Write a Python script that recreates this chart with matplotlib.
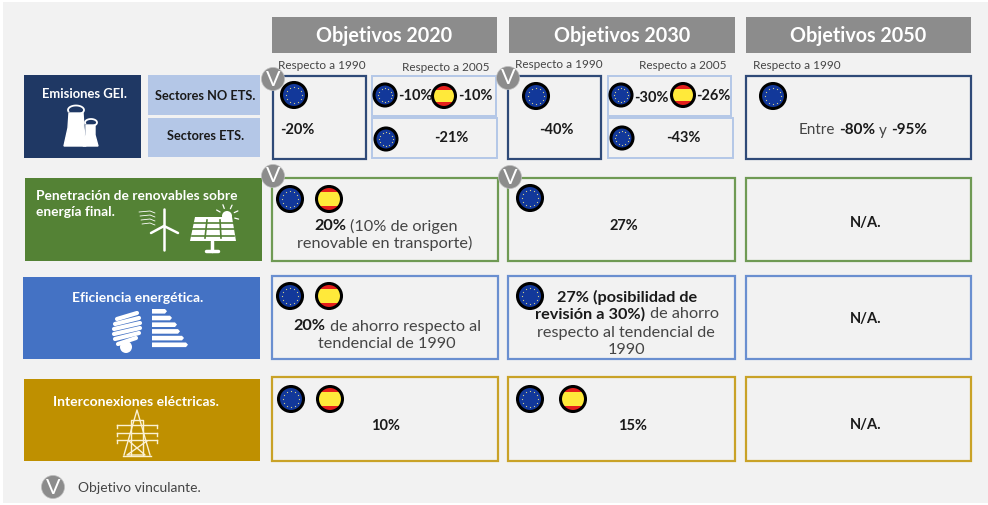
import numpy as np
import matplotlib
matplotlib.use("Agg")
import matplotlib.pyplot as plt
from matplotlib.patches import Rectangle, Circle, Polygon

# chart content
headers = ["Objetivos 2020", "Objetivos 2030", "Objetivos 2050"]
ref_1990 = "Respecto a 1990"
ref_2005 = "Respecto a 2005"
sector_labels = ["Sectores NO ETS.", "Sectores ETS."]
row_titles = ["Emisiones GEI.", "Eficiencia energética.", "Interconexiones eléctricas."]
renew_title = ["Penetración de renovables sobre", "energía final."]
ghg_2020 = ["-20%", "-10%", "-10%", "-21%"]
ghg_2030 = ["-40%", "-30%", "-26%", "-43%"]
ghg_2050 = ["Entre", "-80%", "y", "-95%"]
renew_2020 = ["20%", "(10% de origen", "renovable en transporte)"]
renew_2030 = "27%"
eff_2020 = ["20%", "de ahorro respecto al", "tendencial de 1990"]
eff_2030 = ["27% (posibilidad de", "revisión a 30%)", "de ahorro", "respecto al tendencial de", "1990"]
inter_2020 = "10%"
inter_2030 = "15%"
not_applicable = "N/A."
legend_text = "Objetivo vinculante."

NAVY = "#1f3864"
LIGHT = "#b4c7e7"
GREEN = "#548235"
BLUE = "#4472c4"
GOLD = "#bf9000"
GREY = "#8c8c8c"
DARK = "#1a1a1a"
SOFT = "#454545"

plt.rcParams["font.family"] = ["Lato", "DejaVu Sans"]

fig = plt.figure(figsize=(9.88, 5.05), dpi=100, facecolor="white")
ax = fig.add_axes([0, 0, 1, 1])
ax.set_xlim(0, 988)
ax.set_ylim(505, 0)
ax.axis("off")


def box(x0, y0, x1, y1, face="none", edge="none", lw=0, z=2):
    ax.add_patch(Rectangle((x0, y0), x1 - x0, y1 - y0, facecolor=face, edgecolor=edge, linewidth=lw, zorder=z))


def label(x, y, s, size=10.5, bold=True, color=DARK, ha="center"):
    return ax.text(x, y + 1.5, s, fontsize=size, fontweight="bold" if bold else "normal", color=color,
                   ha=ha, va="center", zorder=8)


def runs(cx, y, parts, size=11.7, gap=4):
    # one centred line that mixes bold and regular pieces
    items = [label(0, y, s, size, b, DARK if b else SOFT, "left") for s, b in parts]
    rend = fig.canvas.get_renderer()
    widths = [t.get_window_extent(rend).width for t in items]
    x = cx - (sum(widths) + gap * (len(items) - 1)) / 2
    for t, w in zip(items, widths):
        t.set_x(x)
        x += w + gap


def eu_flag(x, y, r=13.5):
    ax.add_patch(Circle((x, y), r - 1, facecolor="#12389a", edgecolor="black", linewidth=2.2, zorder=5))
    ang = np.linspace(0, 2 * np.pi, 12, endpoint=False)
    ax.scatter(x + 0.58 * r * np.cos(ang), y + 0.58 * r * np.sin(ang), s=0.8, color="#d9d38a", zorder=6, linewidths=0)


def es_flag(x, y, r=13.5):
    c = Circle((x, y), r - 1, facecolor="#e5201c", edgecolor="none", zorder=5)
    ax.add_patch(c)
    band = Rectangle((x - r, y - r * 0.5), 2 * r, r, facecolor="#ffe93a", edgecolor="none", zorder=5.5)
    ax.add_patch(band)
    band.set_clip_path(c)
    ax.add_patch(Circle((x, y), r - 1, facecolor="none", edgecolor="black", linewidth=2.2, zorder=6))


def badge(x, y, r=11.5):
    ax.add_patch(Circle((x, y), r, facecolor=GREY, edgecolor="#bdbdbd", linewidth=0.5, zorder=7))
    ax.text(x, y + 0.5, "V", fontsize=15.5, color="white", ha="center", va="center", zorder=8)


def factory_icon():
    ax.add_patch(Polygon([(64, 146), (68, 128), (69, 113), (83, 113), (84, 128), (86, 146)], color="white", zorder=4))
    ax.add_patch(Polygon([(83, 146), (86, 135), (86, 125), (95, 125), (95, 135), (98, 146)], color="white", zorder=4))
    t = np.linspace(0.9 * np.pi, 2.3 * np.pi, 30)
    ax.plot(76 + 8 * np.cos(t), 110 + 4.5 * np.sin(t), color="white", lw=1.3, zorder=4)
    ax.plot(91 + 6 * np.cos(t), 122.5 + 3.5 * np.sin(t), color="white", lw=1.3, zorder=4)


def renew_icon():
    kw = dict(color="white", zorder=4, solid_capstyle="round")
    ax.plot([164, 164], [209, 250], lw=1.8, **kw)
    ax.plot([164, 151], [226, 233], lw=1.8, **kw)
    ax.plot([164, 178], [226, 233], lw=1.8, **kw)
    for i, yy in enumerate([212, 216, 220, 224]):
        ax.plot([139 + i, 150, 155], [yy, yy - 1, yy + 1], lw=0.6, **kw)
    # sun sits behind the panel
    ax.add_patch(Circle((227, 216), 5, facecolor="white", zorder=3))
    for a in np.radians([-150, -110, -65, -25, 15]):
        ax.plot([227 + 8 * np.cos(a), 227 + 12 * np.cos(a)], [216 + 8 * np.sin(a), 216 + 12 * np.sin(a)], lw=0.9, **kw)
    ax.add_patch(Circle((227, 216), 6.5, facecolor="none", edgecolor=GREEN, linewidth=1.0, zorder=3.5))
    # solar panel
    ax.add_patch(Polygon([(195, 217), (232, 217), (236, 241), (190, 241)], facecolor="white", zorder=4))
    for fy in [222.5, 229, 235.5]:
        ax.plot([192, 234], [fy, fy], color=GREEN, lw=1.2, zorder=5)
    for tx, bx in [(207, 205), (220, 221)]:
        ax.plot([tx, bx], [220, 238], color=GREEN, lw=1.2, zorder=5)
    ax.plot([212, 212], [241, 251], lw=2.5, **kw)
    ax.plot([206, 218], [251, 251], lw=2.5, **kw)


def efficiency_icon():
    kw = dict(color="white", zorder=4, solid_capstyle="round")
    for i, half in enumerate([10, 12, 13, 13, 12, 9]):
        yy = 316 + i * 5
        ax.plot([127 - half, 127 + half], [yy + 3, yy - 3], lw=3.0, **kw)
    ax.add_patch(Circle((126, 347), 6, facecolor="white", zorder=4))
    for i, right in enumerate([167, 172, 177, 180, 184, 188]):
        yy = 309 + i * 6.7
        ax.add_patch(Polygon([(152, yy), (right - 2, yy), (right, yy + 2.2), (right - 2, yy + 4.6), (152, yy + 4.6)],
                             facecolor="white", zorder=4))


def tower_icon():
    c = "#fbf1d3"
    kw = dict(color=c, lw=1.0, zorder=4)
    ax.plot([124, 137, 150], [455, 410, 455], **kw)
    ax.plot([123, 151], [456, 456], **kw)
    ax.plot([131, 131, 143, 143], [455, 420, 420, 455], **kw)
    for yy, half in [(423, 20), (431, 20), (438, 20)]:
        ax.plot([137 - half, 137 + half], [yy + 2, yy + 2], **kw)
        ax.plot([137 - half, 137 - half], [yy + 2, yy + 5], **kw)
        ax.plot([137 + half, 137 + half], [yy + 2, yy + 5], **kw)
    ax.plot([129, 145, 127, 147], [441, 455, 455, 441], **kw)


# background panel
box(3, 2, 988, 503, face="#f2f2f2", z=0)

# column headers
for (x0, x1), title in zip([(272, 497), (509, 735), (746, 971)], headers):
    box(x0, 17, x1, 53, face=GREY)
    label((x0 + x1) / 2, 35, title, 14.2, True, "white")

label(322, 64, ref_1990, 8.5, False, SOFT)
label(446, 66, ref_2005, 8.5, False, SOFT)
label(559, 63, ref_1990, 8.5, False, SOFT)
label(683, 64, ref_2005, 8.5, False, SOFT)
label(797, 64, ref_1990, 8.5, False, SOFT)

# row headers
box(24, 75, 141, 158, face=NAVY)
label(84, 93, row_titles[0], 9.4, True, "white")
factory_icon()
box(148, 75, 260, 115, face=LIGHT)
box(148, 118, 260, 157, face=LIGHT)
label(205, 95, sector_labels[0], 9.2)
label(206, 135, sector_labels[1], 9.2)

box(25, 178, 262, 261, face=GREEN)
label(36, 195, renew_title[0], 9.9, True, "white", "left")
label(36, 211, renew_title[1], 9.9, True, "white", "left")
renew_icon()

box(23, 277, 260, 359, face=BLUE)
label(138, 297, row_titles[1], 10, True, "white")
efficiency_icon()

box(24, 379, 260, 461, face=GOLD)
label(136, 400, row_titles[2], 10, True, "white")
tower_icon()

# first row cells
for x0, x1 in [(272.5, 366), (508, 601), (746, 971)]:
    box(x0, 76, x1, 159, edge="#2f4a78", lw=1.6)
for x0, x1 in [(372, 496), (608, 731)]:
    box(x0, 76, x1, 116, edge=LIGHT, lw=1.4)
for x0, x1 in [(372, 497), (608, 733)]:
    box(x0, 118, x1, 158, edge=LIGHT, lw=1.4)

eu_flag(294, 95)
label(297, 129, ghg_2020[0])
eu_flag(385, 95, 12)
label(415, 95, ghg_2020[1])
es_flag(444, 96, 12.5)
label(475, 95, ghg_2020[2])
eu_flag(386, 139, 12)
label(451, 137, ghg_2020[3])

eu_flag(536, 96)
label(556, 129, ghg_2030[0])
eu_flag(621, 95, 12)
label(651, 96, ghg_2030[1])
es_flag(683, 95, 12.5)
label(713, 94, ghg_2030[2])
eu_flag(622, 138, 12)
label(683, 137, ghg_2030[3])

eu_flag(773, 96)
runs(863, 129, [(ghg_2050[0], False), (ghg_2050[1], True), (ghg_2050[2], False), (ghg_2050[3], True)], size=11)

# renewables row
for x0, x1 in [(272, 498), (508, 735), (746, 971)]:
    box(x0, 178, x1, 261, edge="#6f9a54", lw=1.6)
eu_flag(290, 199)
es_flag(329, 199)
runs(386, 225, [(renew_2020[0], True), (renew_2020[1], False)])
runs(385, 242, [(renew_2020[2], False)])
eu_flag(530, 198)
label(624, 225, renew_2030)
label(866, 221, not_applicable)

# efficiency row
for x0, x1 in [(272, 498), (508, 735), (746, 971)]:
    box(x0, 276, x1, 359, edge="#6a8fd0", lw=1.6)
eu_flag(290, 296)
es_flag(329, 296)
runs(387, 325, [(eff_2020[0], True), (eff_2020[1], False)])
runs(387, 342, [(eff_2020[2], False)])
eu_flag(530, 296)
runs(627, 296, [(eff_2030[0], True)])
runs(627, 313, [(eff_2030[1], True), (eff_2030[2], False)])
runs(626, 331, [(eff_2030[3], False)])
runs(627, 348, [(eff_2030[4], False)])
label(866, 318, not_applicable)

# interconnection row
for x0, x1 in [(272, 498), (508, 735), (746, 971)]:
    box(x0, 377, x1, 461, edge="#c9a227", lw=1.6)
eu_flag(291, 399)
es_flag(330, 399)
label(386, 424, inter_2020)
eu_flag(530, 399)
es_flag(573, 399)
label(633, 425, inter_2030)
label(866, 424, not_applicable)

# binding-target badges and legend
badge(273, 79)
badge(508, 78)
badge(273, 176)
badge(510, 177)
badge(53, 487)
label(78, 486, legend_text, 10, False, SOFT, "left")

fig.savefig("out.png", dpi=100)
